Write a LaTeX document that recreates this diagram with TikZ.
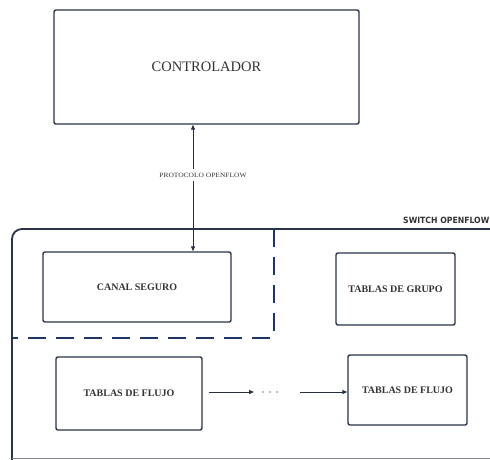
\documentclass[tikz,border=0pt]{standalone}
\usepackage{fontspec}
\setmainfont{Liberation Serif}
\newfontfamily\labelsans{DejaVu Sans Condensed}
\usetikzlibrary{arrows.meta}
\definecolor{boxline}{HTML}{2B3348}
\definecolor{navy}{HTML}{1E3566}
\definecolor{inktext}{HTML}{333333}
\begin{document}
\begin{tikzpicture}[x=1pt,y=-1pt,
  block/.style={draw=boxline,line width=1.4pt,rounded corners=2pt,fill=white,
    text=inktext,font=\fontsize{10}{12}\selectfont\bfseries,align=center},
  link/.style={draw=boxline!90!black,line width=1pt,-{Triangle[length=5pt,width=4pt]}},
  dot/.style={circle,fill=gray!70,inner sep=0pt,minimum size=2.2pt},
  sep/.style={draw=navy,line width=2.4pt,dash pattern=on 18pt off 10pt,rounded corners=3pt}]
\useasboundingbox (0,0) rectangle (490,459);
\clip (0,0) rectangle (490,459);

% switch enclosure and its caption
\draw[boxline,line width=1.8pt,rounded corners=10pt] (12,462) |- (520,229);
\draw[boxline!60,line width=1pt] (12,458.5) -- (490,458.5);
\node[anchor=south west,inner sep=0pt,font=\labelsans\fontsize{8.6}{9}\selectfont\bfseries,text=inktext]
  (swlabel) at (403,224) {SWITCH OPENFLOW};

% separator around the secure channel
\draw[sep] (274,229) -- (274,338) -- (12,338);

% controller
\node[block,minimum width=305pt,minimum height=114pt,font=\fontsize{14.5}{16}\selectfont]
  (ctrl) at (206.5,67) {CONTROLADOR};

% switch components
\node[block,minimum width=188pt,minimum height=70pt] (canal) at (137,287) {CANAL SEGURO};
\node[block,minimum width=119pt,minimum height=72pt] (grupo) at (395.5,289) {TABLAS DE GRUPO};
\node[block,minimum width=146pt,minimum height=73pt] (flujoA) at (129,393.5) {TABLAS DE FLUJO};
\node[block,minimum width=119pt,minimum height=70pt] (flujoB) at (407.5,390) {TABLAS DE FLUJO};

% openflow protocol link
\node[font=\fontsize{6.5}{7}\selectfont,text=inktext,inner sep=2pt,xscale=1.15] (proto) at (203,175) {PROTOCOLO OPENFLOW};
\coordinate (up) at (193,175);
\draw[link] (193,169) -- (ctrl.south -| up);
\draw[link] (193,181) -- (canal.north -| up);

% chain of flow tables
\node[dot] (d1) at (263,392) {};
\node[dot] (d2) at (270,392) {};
\node[dot] (d3) at (277,392) {};
\draw[link] (flujoA.east |- d1) ++(6,0) -- (254,392);
\draw[link] (300,392) -- (flujoB.west |- d1);
\end{tikzpicture}
\end{document}
